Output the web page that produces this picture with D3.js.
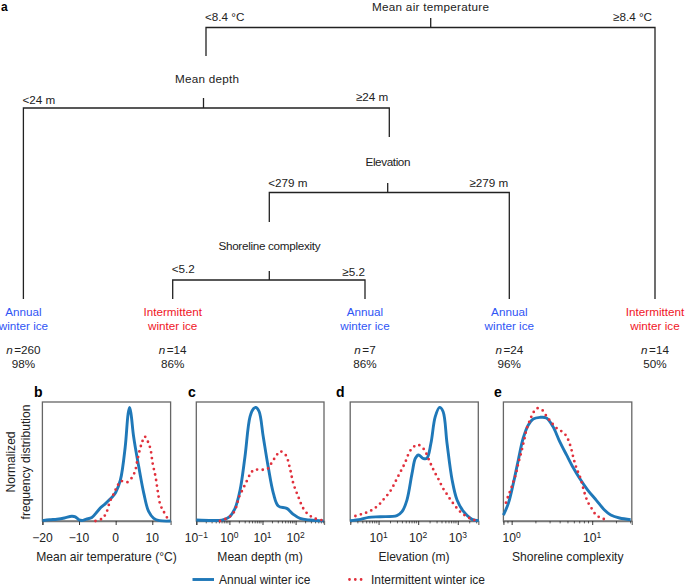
<!DOCTYPE html>
<html><head><meta charset="utf-8">
<script src="https://cdn.jsdelivr.net/npm/d3@7"></script>
<style>
html,body{margin:0;padding:0;background:#fff}
svg{display:block}
text{font-family:"Liberation Sans",Arial,sans-serif;fill:#222}
</style></head><body>
<svg id="c" width="685" height="586"></svg>
<script>
// ---- panel b: mean air temperature (deg C) ----
const tempAnnualX=[-20,-18,-16,-14,-12,-11,-10,-9,-8,-6.5,-5,-4,-3,-2,-1,0,1.3,2.6,3.4,3.8,4.2,4.9,6.3,7.7,9,10.4,12,15];
const tempAnnualY=[.003,.01,.015,.025,.04,.035,.01,.005,.015,.03,.08,.115,.14,.17,.2,.24,.345,.62,.9,.955,.9,.71,.457,.23,.08,.022,.003,0];
const tempInterX=[-5.5,-3.7,-2.6,-1.6,-.5,.4,1.5,3.1,4.5,5.4,5.8,6.6,7.2,7.9,8.8,9.5,10.1,10.9,11.5,12.2,13.1,14];
const tempInterY=[0,.02,.065,.16,.23,.29,.335,.325,.367,.43,.49,.6,.66,.71,.667,.605,.485,.37,.25,.135,.08,.03];
// ---- panel c: mean depth (m) ----
const depthAnnualX=[.1,.32,.59,1,1.48,2.1,2.95,4.2,5.4,6.3,7.9,10.5,14.8,21.4,30,54,85,135,270,700];
const depthAnnualY=[.008,.004,.008,.035,.106,.26,.54,.877,.945,.955,.92,.71,.457,.23,.126,.106,.056,.022,.008,.001];
const depthInterX=[.52,.83,1.23,1.58,1.95,2.63,3.47,4.37,5.6,9.5,14.5,19,25.7,34,50,68,85,120,170,240,380,645];
const depthInterY=[0,.022,.056,.112,.2,.275,.345,.4,.43,.43,.44,.49,.546,.585,.555,.437,.317,.205,.106,.056,.022,.006];
// ---- panel d: elevation (m) ----
const elevAnnualX=[1.9,3.5,5.6,11,29,39,52,70,85,102,132,166,210,270,347,425,535,720,960,1410,2300,3400];
const elevAnnualY=[.003,.014,.03,.036,.045,.078,.176,.4,.527,.555,.527,.527,.653,.877,.955,.92,.653,.345,.176,.078,.014,.003];
const elevInterX=[2.6,3.8,5.6,7.9,11,14,18.6,23,28,34,41,49,58,70,97,138,195,233,284,345,410,515,645,825,1080,1470,2190,3100];
const elevInterY=[.042,.059,.078,.106,.148,.19,.238,.289,.345,.4,.451,.507,.569,.61,.641,.605,.5,.443,.387,.336,.283,.232,.182,.134,.087,.05,.017,0];
// ---- panel e: shoreline complexity ----
const shoreAnnualX=[.79,.91,1.05,1.21,1.39,1.61,1.85,2.24,2.7,3.26,3.95,4.8,5.77,6.97,8.8,11.2,14.2,17,21.8,30];
const shoreAnnualY=[.05,.148,.317,.513,.695,.807,.857,.871,.866,.793,.667,.555,.451,.359,.26,.176,.092,.05,.025,.011];
const shoreInterX=[.85,.91,.98,1.05,1.12,1.21,1.33,1.43,1.53,1.68,1.82,2.05,2.39,2.7,3.06,3.52,4.14,4.77,5.15,5.5,5.77,6.1,6.5,7.1,7.7,8.3,9,10,11.2,13.5,16.3];
const shoreInterY=[.154,.213,.269,.331,.387,.485,.59,.68,.77,.845,.899,.947,.933,.882,.835,.787,.755,.715,.665,.605,.546,.485,.43,.365,.28,.205,.148,.098,.05,.02,.006];
// ---- tree ----
const leafClasses=["Annual","Intermittent","Annual","Annual","Intermittent"];
const leafN=["260","14","7","24","14"];
const leafPct=["98%","86%","86%","96%","50%"];
const seriesNames=["Annual winter ice","Intermittent winter ice"];
const tempTicks=[-20,-10,0,10];

const BLUE="#1f78b8",RED="#e1303c",LBLUE="#2f55f5",LRED="#f0151f",FS=11.7,AFS=12.1;
const svg=d3.select("#c");
const zip=(a,b)=>a.map((v,i)=>[v,b[i]]);

// Tree: split nodes with left/right branch labels
const treeData={name:"Mean air temperature",l:"<8.4 °C",r:"≥8.4 °C",children:[
 {name:"Mean depth",l:"<24 m",r:"≥24 m",children:[
   {leaf:0},
   {name:"Elevation",l:"<279 m",r:"≥279 m",children:[
     {name:"Shoreline complexity",l:"<5.2",r:"≥5.2",children:[{leaf:1},{leaf:2}]},
     {leaf:3}]}]},
 {leaf:4}]};
const root=d3.hierarchy(treeData);
const depths=[0,1,2,3];
const leafX=d3.scaleOrdinal().domain([0,1,2,3,4]).range([23.4,172.7,365,509.3,655]);
const splitY=d3.scaleOrdinal().domain(depths).range([27.5,108,192.5,280]);
const stemX=d3.scaleOrdinal().domain(depths).range([430.7,203.5,387.7,269.3]);
const labelX=d3.scaleOrdinal().domain(depths).range([430.5,207,388,269.5]);
const labelY=d3.scaleOrdinal().domain(depths).range([6.5,79,161.5,246]);
const labelW=d3.scaleOrdinal().domain(depths).range([117,64,45,102]);
const stemTop=d3.scaleOrdinal().domain(depths).range([18,98,183,271]);
const nodeDrop=d3.scaleOrdinal().domain([1,2,3]).range([206,389.3,269.3]);
const nodeEnd=d3.scaleOrdinal().domain([1,2,3]).range([56,137,222]);
const leftOff=d3.scaleOrdinal().domain(depths).range([10.8,8,9.2,10.7]);
const rightOff=d3.scaleOrdinal().domain(depths).range([10.8,11,9.5,8.3]);
const rightPad=d3.scaleOrdinal().domain(depths).range([3,1,1,0]);
const isLeaf=c=>c.data.leaf!==undefined;
const dropX=c=>isLeaf(c)?leafX(c.data.leaf):nodeDrop(c.depth);
const endY=c=>isLeaf(c)?299:nodeEnd(c.depth);
const tree=svg.append("g").attr("fill","none").attr("stroke","#222").attr("stroke-width",1.3);
root.descendants().filter(n=>n.children).forEach(n=>{
  const y=splitY(n.depth),sx=stemX(n.depth);
  const [a,b]=n.children;
  tree.append("path").attr("d",`M${dropX(a)},${endY(a)}V${y}H${dropX(b)}V${endY(b)}`);
  tree.append("path").attr("d",`M${sx},${stemTop(n.depth)}V${y}`);
  const t=(x,yy,s,anchor)=>svg.append("text").attr("x",x).attr("y",yy).attr("dy",".35em")
     .attr("text-anchor",anchor).attr("font-size",FS).text(s);
  t(labelX(n.depth),labelY(n.depth),n.data.name,"middle").attr("textLength",labelW(n.depth)).attr("lengthAdjust","spacing");
  t(dropX(a)-1,y-leftOff(n.depth),n.data.l,"start");
  t(dropX(b)-rightPad(n.depth),y-rightOff(n.depth),n.data.r,"end");
});
// Leaves
leafClasses.forEach((c,i)=>{
  const x=leafX(i),col=c==="Annual"?LBLUE:LRED;
  const t=(y,s)=>svg.append("text").attr("x",x).attr("y",y).attr("dy",".35em").attr("text-anchor","middle").attr("font-size",FS).text(s);
  t(311.7,c).style("fill",col);
  t(326,"winter ice").style("fill",col);
  const nt=t(349.7,"");
  nt.append("tspan").attr("font-style","italic").text("n");
  nt.append("tspan").attr("dx",1.5).text("="+leafN[i]);
  t(364,leafPct[i]);
});
// Panels
const yS=d3.scaleLinear().domain([0,1]).range([521,402]);
const panels=[
 {k:"b",x0:42.4,x1:170.6,d:[-20,15],log:false,lab:"Mean air temperature (°C)",a:zip(tempAnnualX,tempAnnualY),b:zip(tempInterX,tempInterY),lc:106.5,lx:34},
 {k:"c",x0:196.3,x1:324,d:[.1,720],log:true,lab:"Mean depth (m)",a:zip(depthAnnualX,depthAnnualY),b:zip(depthInterX,depthInterY),lc:260,lx:188,maj:[.1,1,10,100]},
 {k:"d",x0:350.2,x1:478.3,d:[1.92,3300],log:true,lab:"Elevation (m)",a:zip(elevAnnualX,elevAnnualY),b:zip(elevInterX,elevInterY),lc:414,lx:336,maj:[10,100,1000]},
 {k:"e",x0:503.4,x1:631.8,d:[.79,31],log:true,lab:"Shoreline complexity",a:zip(shoreAnnualX,shoreAnnualY),b:zip(shoreInterX,shoreInterY),lc:567.7,lx:494,maj:[1,10]}
];
panels.forEach(p=>{
  const xS=(p.log?d3.scaleLog():d3.scaleLinear()).domain(p.d).range([p.x0,p.x1]);
  const g=svg.append("g");
  const line=d3.line().x(d=>xS(d[0])).y(d=>yS(d[1])).curve(d3.curveCatmullRom.alpha(.5));
  g.append("rect").attr("x",p.x0).attr("y",yS(1)).attr("width",p.x1-p.x0).attr("height",yS(0)-yS(1))
    .attr("fill","none").attr("stroke","#666").attr("stroke-width",1.3);
  const mk=p.log?p.maj:tempTicks;
  const ax=g.append("g").attr("transform",`translate(0,${yS(0)})`).call(
    d3.axisBottom(xS).tickValues(mk).tickSize(4).tickFormat(""));
  ax.select(".domain").attr("stroke","#777").attr("stroke-width",1.3);
  ax.selectAll(".tick line").attr("stroke","#222").attr("stroke-width",.9);
  ax.selectAll(".tick text").remove();
  if(p.log){
    const minors=[];
    for(let e=-2;e<=4;e++)for(let m=2;m<=9;m++){const v=m*Math.pow(10,e);if(v>=p.d[0]&&v<=p.d[1])minors.push(v);}
    ax.selectAll("line.minor").data(minors).enter().append("line").attr("class","minor")
      .attr("x1",d=>xS(d)).attr("x2",d=>xS(d)).attr("y1",0).attr("y2",2.4).attr("stroke","#222").attr("stroke-width",.7);
  }
  mk.forEach(v=>{
    const t=g.append("text").attr("x",xS(v)).attr("y",538).attr("dy",".35em").attr("text-anchor","middle").attr("font-size",AFS);
    if(p.log){
      const e=Math.round(Math.log10(v));
      t.append("tspan").text("10");
      t.append("tspan").attr("dy","-.5em").attr("font-size",8.5).text(String(e).replace("-","−"));
    } else t.text(String(v).replace("-","−"));
  });
  g.append("text").attr("x",p.lc).attr("y",556.7).attr("dy",".35em").attr("text-anchor","middle").attr("font-size",AFS).text(p.lab);
  g.append("path").attr("d",line(p.a)).attr("fill","none").attr("stroke",BLUE).attr("stroke-width",2.9).attr("stroke-linejoin","round");
  g.append("path").attr("d",line(p.b)).attr("fill","none").attr("stroke",RED).attr("stroke-width",2.8)
    .attr("stroke-linecap","round").attr("stroke-dasharray","0 5.6");
  g.append("text").attr("x",p.lx).attr("y",392).attr("dy",".35em").attr("font-size",14).attr("font-weight","bold").style("fill","#000").text(p.k);
});
svg.append("text").attr("x",1).attr("y",11).attr("font-size",12).attr("font-weight","bold").style("fill","#000").text("a");
// y label
[["Normalized",11],["frequency distribution",26]].forEach(([s,x])=>{
  svg.append("text").attr("transform",`translate(${x},462) rotate(-90)`).attr("dy",".35em").attr("text-anchor","middle").attr("font-size",AFS).text(s);
});
// legend
const LY=579.5;
svg.append("line").attr("x1",192.5).attr("x2",214).attr("y1",LY).attr("y2",LY).attr("stroke",BLUE).attr("stroke-width",2.9);
svg.append("text").attr("x",219).attr("y",LY).attr("dy",".35em").attr("font-size",12).text(seriesNames[0]);
svg.append("line").attr("x1",349.5).attr("x2",366).attr("y1",LY).attr("y2",LY).attr("stroke",RED).attr("stroke-width",2.8).attr("stroke-linecap","round").attr("stroke-dasharray","0 5.8");
svg.append("text").attr("x",371).attr("y",LY).attr("dy",".35em").attr("font-size",12).text(seriesNames[1]);
</script>
</body></html>
